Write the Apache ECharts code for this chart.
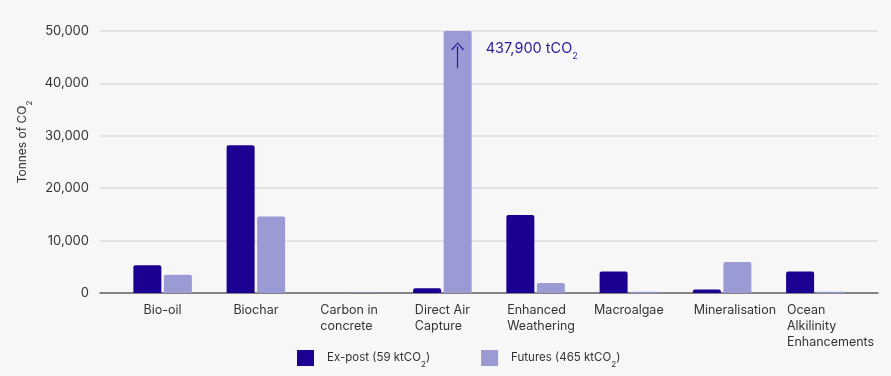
<!DOCTYPE html>
<html>
<head>
<meta charset="utf-8">
<script src="https://cdn.jsdelivr.net/npm/echarts@6/dist/echarts.min.js"></script>
<style>
  html, body { margin: 0; padding: 0; background: #f7f7f7; }
  #chart { width: 891px; height: 376px; }
</style>
</head>
<body>
<div id="chart"></div>
<script>
  var categories = ['Bio-oil', 'Biochar', 'Carbon in\nconcrete', 'Direct Air\nCapture',
    'Enhanced\nWeathering', 'Macroalgae', 'Mineralisation', 'Ocean\nAlkilinity\nEnhancements']
  var exPost = [5300, 28200, 0, 900, 14900, 4100, 650, 4100]
  var futures = [3500, 14600, 60, 437900, 1900, 250, 5900, 250]
  var yMax = 50000
  var yStep = 10000
  // labels that start at the left edge of their bar pair
  var leftLabels = ['Enhanced\nWeathering', 'Mineralisation', 'Ocean\nAlkilinity\nEnhancements']
  var dacLabel = '437,900 tCO'

  var dark = '#1b0091'
  var light = '#9a9ad5'
  var textColor = '#333333'
  var font = 'Inter'

  var chart = echarts.init(document.getElementById('chart'))

  chart.setOption({
    backgroundColor: '#f7f7f7',
    textStyle: { fontFamily: font },
    animation: false,
    grid: [
      { left: 100, right: 13, top: 31, bottom: 83 },
      { left: 116, right: 29, top: 31, bottom: 83 }
    ],
    legend: {
      left: 297,
      top: 350,
      padding: 0,
      itemWidth: 17,
      itemHeight: 16,
      itemGap: 51,
      icon: 'rect',
      data: ['Ex-post', 'Futures'],
      formatter: function (name) {
        var total = name === 'Ex-post' ? '59' : '465'
        return '{t|' + name + ' (' + total + ' ktCO}{s|2}{t|)}'
      },
      textStyle: {
        padding: [0, 0, 0, 8],
        rich: {
          t: { fontFamily: font, fontSize: 11.5, color: textColor, lineHeight: 14 },
          s: { fontFamily: font, fontSize: 8, color: textColor, lineHeight: 14, verticalAlign: 'bottom', padding: [0, 0, -4, 0] }
        }
      }
    },
    xAxis: [
      {
        gridIndex: 0,
        type: 'value',
        min: 0,
        max: 1,
        axisLine: { show: true, lineStyle: { color: '#666666', width: 1.5 } },
        axisTick: { show: false },
        axisLabel: { show: false },
        splitLine: { show: false }
      },
      {
        gridIndex: 1,
        type: 'category',
        data: categories,
        axisLine: { show: false },
        axisTick: { show: false },
        axisLabel: {
          interval: 0,
          margin: 9,
          formatter: function (value) {
            var style = leftLabels.indexOf(value) >= 0 ? 'w' : 'c'
            return value.split('\n').map(function (line) {
              return '{' + style + '|' + line + '}'
            }).join('\n')
          },
          rich: {
            c: { fontFamily: font, fontSize: 12.5, color: textColor, lineHeight: 16, align: 'left' },
            w: { fontFamily: font, fontSize: 12.5, color: textColor, lineHeight: 16, width: 57, align: 'left' }
          }
        }
      }
    ],
    yAxis: [
      {
        gridIndex: 0,
        type: 'value',
        min: 0,
        max: yMax,
        interval: yStep,
        name: '{a|Tonnes of CO}{s|2}',
        nameLocation: 'middle',
        nameGap: 70,
        nameTextStyle: {
          padding: [0, 0, 0, 40],
          rich: {
            a: { fontFamily: font, fontSize: 12, color: textColor, lineHeight: 14 },
            s: { fontFamily: font, fontSize: 8, color: textColor, lineHeight: 14, verticalAlign: 'bottom', padding: [0, 0, -4, 0] }
          }
        },
        axisLine: { show: false },
        axisTick: { show: false },
        axisLabel: {
          margin: 11,
          fontSize: 13,
          color: textColor,
          formatter: function (v) { return v.toLocaleString('en-US') }
        },
        splitLine: { lineStyle: { color: '#dddddd', width: 1.5 } }
      },
      {
        gridIndex: 1,
        type: 'value',
        min: 0,
        max: yMax,
        show: false,
        splitLine: { show: false }
      }
    ],
    series: [
      {
        name: 'Ex-post',
        type: 'bar',
        xAxisIndex: 1,
        yAxisIndex: 1,
        barWidth: 28,
        barGap: '9%',
        itemStyle: { color: dark, borderRadius: [2, 2, 0, 0] },
        data: exPost
      },
      {
        name: 'Futures',
        type: 'bar',
        xAxisIndex: 1,
        yAxisIndex: 1,
        barWidth: 28,
        itemStyle: { color: light, borderRadius: [2, 2, 0, 0] },
        data: futures,
        markLine: {
          silent: true,
          symbol: ['none', 'path://M0,8 L5,0 L10,8 L9,8.9 L5,1.8 L1,8.9 Z'],
          symbolSize: [13, 8],
          lineStyle: { color: '#2a1c9c', width: 1.2, type: 'solid' },
          label: { show: false },
          data: [[
            { coord: ['Direct Air\nCapture', 42900] },
            { coord: ['Direct Air\nCapture', 47100] }
          ]]
        },
        markPoint: {
          silent: true,
          symbol: 'circle',
          symbolSize: 0,
          data: [{ coord: ['Direct Air\nCapture', 46700] }],
          label: {
            show: true,
            position: 'right',
            distance: 28,
            formatter: '{a|' + dacLabel + '}{s|2}',
            rich: {
              a: { fontFamily: font, fontSize: 14.5, color: '#2a1c9c', lineHeight: 18 },
              s: { fontFamily: font, fontSize: 9, color: '#2a1c9c', lineHeight: 18, verticalAlign: 'bottom', padding: [0, 0, -4, 0] }
            }
          }
        }
      }
    ]
  })
</script>
</body>
</html>
